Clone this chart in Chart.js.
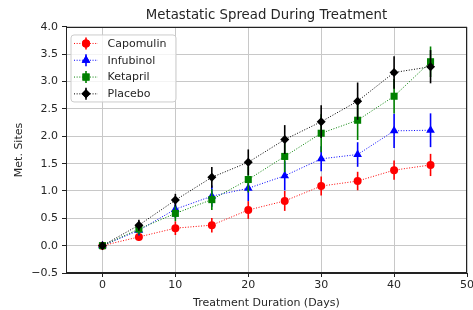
<!DOCTYPE html>
<html><head><meta charset="utf-8">
<script src="https://cdn.jsdelivr.net/npm/chart.js@4"></script>
<style>html,body{margin:0;padding:0;background:#fff}</style>
</head><body>
<canvas id="c" width="473" height="310" style="width:473px;height:310px;display:block"></canvas>
<script>
// ---- data ----
const days = [0, 5, 10, 15, 20, 25, 30, 35, 40, 45];
const seriesNames = ["Capomulin", "Infubinol", "Ketapril", "Placebo"];
const capomulin    = [0.000, 0.160, 0.320, 0.375, 0.652, 0.818, 1.090, 1.182, 1.381, 1.476];
const capomulinErr = [0.000, 0.075, 0.125, 0.132, 0.162, 0.182, 0.173, 0.169, 0.176, 0.203];
const infubinol    = [0.000, 0.280, 0.667, 0.905, 1.050, 1.278, 1.588, 1.667, 2.100, 2.111];
const infubinolErr = [0.000, 0.092, 0.159, 0.194, 0.235, 0.266, 0.228, 0.225, 0.314, 0.309];
const ketapril     = [0.000, 0.304, 0.590, 0.842, 1.210, 1.632, 2.056, 2.294, 2.733, 3.364];
const ketaprilErr  = [0.000, 0.098, 0.142, 0.191, 0.237, 0.288, 0.347, 0.361, 0.316, 0.279];
const placebo      = [0.000, 0.375, 0.833, 1.250, 1.526, 1.941, 2.267, 2.643, 3.167, 3.273];
const placeboErr   = [0.000, 0.101, 0.115, 0.190, 0.234, 0.264, 0.300, 0.341, 0.297, 0.304];
const xTicks = [0, 10, 20, 30, 40, 50];
const yTicks = [-0.5, 0.0, 0.5, 1.0, 1.5, 2.0, 2.5, 3.0, 3.5, 4.0];
const titleText = "Metastatic Spread During Treatment";
const xLabel = "Treatment Duration (Days)";
const yLabel = "Met. Sites";

// ---- styles ----
const values = [capomulin, infubinol, ketapril, placebo];
const errors = [capomulinErr, infubinolErr, ketaprilErr, placeboErr];
const colors = ["#ff0000", "#0000ff", "#008000", "#000000"];
const markers = ["circle", "triangle", "rect", "rectRot"];
const radii = [4, 5, 5, 4.5];
const FONT = "'DejaVu Sans', sans-serif";
const TXT = "#262626";

const datasets = seriesNames.map((name, i) => ({
  label: name,
  data: days.map((d, j) => ({x: d, y: values[i][j]})),
  showLine: true,
  borderColor: colors[i],
  backgroundColor: colors[i],
  borderWidth: 1,
  borderDash: [1, 1.65],
  pointStyle: markers[i],
  pointRadius: radii[i],
  pointHoverRadius: radii[i],
  pointBorderWidth: 0,
  pointBackgroundColor: colors[i],
  order: seriesNames.length - i,
  tension: 0
}));

const errorBarPlugin = {
  id: 'errorBars',
  beforeDatasetDraw(chart, args) {
    const i = args.index;
    const ctx = chart.ctx, xs = chart.scales.x, ys = chart.scales.y;
    ctx.save();
    ctx.strokeStyle = colors[i];
    ctx.lineWidth = 1.6;
    days.forEach((d, j) => {
      const e = errors[i][j];
      if (!e) return;
      const px = xs.getPixelForValue(d);
      ctx.beginPath();
      ctx.moveTo(px, ys.getPixelForValue(values[i][j] - e));
      ctx.lineTo(px, ys.getPixelForValue(values[i][j] + e));
      ctx.stroke();
    });
    ctx.restore();
  }
};

const framePlugin = {
  id: 'frame',
  afterDatasetsDraw(chart) {
    const {ctx, chartArea: a} = chart;
    ctx.save();
    ctx.strokeStyle = "#222";
    ctx.lineWidth = 1;
    const l = Math.round(a.left) + 0.5, r = Math.round(a.right) - 0.5;
    const t = Math.round(a.top) + 0.5, b = Math.round(a.bottom) - 0.5;
    ctx.strokeRect(l, t, r - l, b - t);
    ctx.restore();
  }
};

const legendPlugin = {
  id: 'boxLegend',
  afterDraw(chart) {
    const ctx = chart.ctx;
    const a = chart.chartArea;
    const bx = a.left + 5, by = a.top + 8, bw = 105, bh = 67, rad = 3;
    ctx.save();
    ctx.beginPath();
    ctx.moveTo(bx + rad, by);
    ctx.arcTo(bx + bw, by, bx + bw, by + bh, rad);
    ctx.arcTo(bx + bw, by + bh, bx, by + bh, rad);
    ctx.arcTo(bx, by + bh, bx, by, rad);
    ctx.arcTo(bx, by, bx + bw, by, rad);
    ctx.closePath();
    ctx.fillStyle = "rgba(255,255,255,0.8)";
    ctx.fill();
    ctx.strokeStyle = "#cccccc";
    ctx.lineWidth = 1;
    ctx.stroke();
    ctx.font = "11px " + FONT;
    ctx.textBaseline = "middle";
    ctx.textAlign = "left";
    seriesNames.forEach((name, i) => {
      const y = by + 8.5 + i * 16.8;
      const x0 = bx + 3, x1 = bx + 27, xm = (x0 + x1) / 2;
      ctx.strokeStyle = colors[i];
      ctx.lineWidth = 1;
      ctx.setLineDash([1, 1.65]);
      ctx.beginPath(); ctx.moveTo(x0, y); ctx.lineTo(x1, y); ctx.stroke();
      ctx.setLineDash([]);
      ctx.lineWidth = 1.6;
      ctx.beginPath(); ctx.moveTo(xm, y - 6); ctx.lineTo(xm, y + 6); ctx.stroke();
      ctx.fillStyle = colors[i];
      Chart.helpers.drawPoint(ctx, {pointStyle: markers[i], radius: radii[i], borderWidth: 0}, xm, y);
      ctx.fill();
      ctx.fillStyle = TXT;
      ctx.fillText(name, bx + 36.5, y + 0.5);
    });
    ctx.restore();
  }
};

const fmt = v => (Math.round(v * 10) / 10).toFixed(1).replace('-', '\u2212');

new Chart(document.getElementById('c'), {
  type: 'scatter',
  data: {datasets},
  options: {
    responsive: false,
    animation: false,
    events: [],
    layout: {padding: {left: 0, right: 6, top: 0, bottom: 0}},
    plugins: {
      legend: {display: false},
      tooltip: {enabled: false},
      title: {
        display: true, text: titleText, fullSize: false,
        color: TXT, font: {family: FONT, size: 13.3, weight: 'normal'},
        padding: {top: 7.7, bottom: 3.3}
      }
    },
    scales: {
      x: {
        type: 'linear', min: -5, max: 50,
        afterBuildTicks: s => { s.ticks = xTicks.map(v => ({value: v})); },
        afterFit: s => { s.height = 37; s.paddingLeft = 0; s.paddingRight = 0; },
        grid: {color: '#c8c8c8', lineWidth: 1, drawTicks: true, tickLength: 4, tickColor: '#222'},
        border: {display: true, color: '#222', width: 1},
        ticks: {color: TXT, font: {family: FONT, size: 11}, padding: 2, maxRotation: 0,
                callback: v => String(v)},
        title: {display: true, text: xLabel, color: TXT, font: {family: FONT, size: 11},
                padding: {top: 2.4, bottom: 0}}
      },
      y: {
        type: 'linear', min: -0.5, max: 4.0,
        afterBuildTicks: s => { s.ticks = yTicks.map(v => ({value: v})); },
        afterFit: s => { s.width = 66; s.paddingTop = 0; s.paddingBottom = 0; },
        grid: {color: '#c8c8c8', lineWidth: 1, drawTicks: true, tickLength: 4, tickColor: '#222'},
        border: {display: true, color: '#222', width: 1},
        ticks: {color: TXT, font: {family: FONT, size: 11}, padding: 4, callback: v => fmt(v)},
        title: {display: true, text: yLabel, color: TXT, font: {family: FONT, size: 11},
                padding: {top: 12.4, bottom: 0}}
      }
    }
  },
  plugins: [errorBarPlugin, framePlugin, legendPlugin]
});
</script>
</body></html>
